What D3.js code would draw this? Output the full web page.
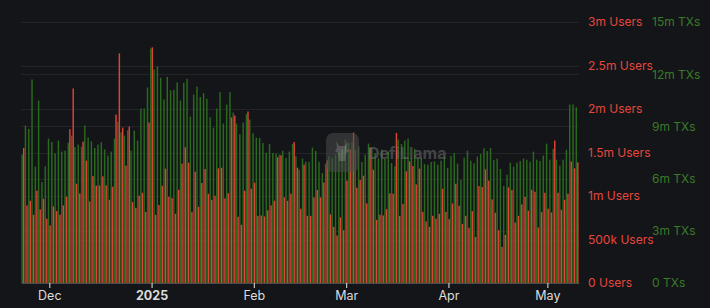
<!DOCTYPE html>
<html>
  <head>
    <meta charset="utf-8">
    <script src="https://cdn.jsdelivr.net/npm/d3@7/dist/d3.min.js"></script>
    <style type="text/css">
      body { margin: 0; background: #141518; }
      .axis text { font-family: Inter, "Noto Sans", sans-serif; font-size: 12px; }
      .xaxis path { stroke: #4a4b4f; }
      .xaxis line { stroke: #e6e6e6; }
      .xaxis text { fill: #dcdcdc; }
    </style>
  </head>
  <body>
    <div class="plot_canvas"></div>
    <script>
      // daily values, first day = startDay, one entry per day (thousands)
      var startDay = "2024-11-23";
      var txs = [
        7377, 9048, 8856, 11699, 6685, 10489, 5801, 6704,
        8299, 8107, 7453, 8183, 7550, 7607, 8068, 8472, 7818, 7953, 7838, 9048, 8356, 8145, 7761, 7953,
        8087, 7684, 7319, 7550, 8299, 9278, 8664, 8472, 8779, 7607, 8760, 8183, 10028, 10028, 11238, 13485,
        12275, 12448, 11795, 10546, 11853, 11084, 11103, 11526,
        10489, 11507, 11737, 9567, 10834, 11295, 10681, 10911, 10585, 9528, 8933, 10028, 10969, 9163, 10258, 10969,
        9797, 9163, 8548, 9221, 9701, 9394, 8606, 8356,
        8337, 8049, 7492, 7991, 7473, 7434, 7377, 7607, 7185, 7550, 7991, 7281, 6512, 7146, 6973, 6973,
        7780, 7588, 6973, 6320, 6858, 7281, 7185, 7377,
        7473, 7665, 8241, 8049, 8087, 7665, 7857, 6954, 7377, 8011, 7761, 7473, 7165, 7665, 7146, 7550,
        6896, 6704, 8241, 7991, 8183, 8299, 7185, 7703, 7185,
        7185, 6839, 6800, 6954, 6992, 6800, 7031, 7261, 6608, 7300, 7473, 6858, 5917, 7204, 7607, 7031,
        6877, 7261, 7415, 7742, 7588, 7761, 7069, 7146,
        6551, 5571, 6224, 6916, 6685, 6916, 7012, 7146, 7088, 6973, 7550, 7088, 7012, 7319, 8011, 7088,
        7703, 7088, 6743, 7088, 7665, 10258, 10258, 10104
      ];
      var users = [
        1552, 891, 945, 784, 1060, 845, 968, 738,
        661, 880, 826, 784, 891, 991, 1767, 2236, 1141, 1030, 1625, 1406, 937, 1229, 1118, 1122,
        1226, 1122, 957, 1106, 1936, 2639, 1787, 1349, 1798, 930, 864, 1003, 1037, 818, 1844, 2709,
        784, 895, 1118, 1314, 991, 976, 795, 1072,
        1372, 1560, 1383, 818, 1279, 876, 1149, 1310, 1026, 957, 1003, 1318, 1325, 972, 1033, 1902,
        1925, 761, 669, 1060, 1971, 1083, 1153, 772,
        776, 765, 834, 891, 945, 1445, 1468, 984, 945, 1026, 1621, 1325, 853, 1360, 772, 772,
        984, 1068, 984, 1156, 1410, 788, 645, 546,
        753, 607, 1176, 1537, 1729, 1095, 1183, 1233, 914, 1552, 1302, 726, 784, 776, 849, 1030,
        1026, 1725, 772, 907, 1283, 1398, 1345, 1133, 1314,
        818, 707, 645, 772, 738, 795, 1083, 818, 734, 914, 1141, 888, 680, 772, 634, 826,
        530, 1114, 1103, 1306, 1176, 961, 807, 607,
        415, 553, 1099, 1068, 695, 772, 903, 991, 830, 1072, 1049, 638, 815, 1037, 853, 811,
        1637, 1037, 841, 957, 1026, 1395, 1318, 1387
      ];
      var xTickDates = ["2024-12-01", "2025-01-01", "2025-02-01", "2025-03-01", "2025-04-01", "2025-05-01"];
      var xTickLabels = ["Dec", "2025", "Feb", "Mar", "Apr", "May"];
      var userTicks = [0, 500, 1000, 1500, 2000, 2500, 3000];
      var userTickLabels = ["0 Users", "500k Users", "1m Users", "1.5m Users", "2m Users", "2.5m Users", "3m Users"];
      var txTicks = [0, 3000, 6000, 9000, 12000, 15000];
      var txTickLabels = ["0 TXs", "3m TXs", "6m TXs", "9m TXs", "12m TXs", "15m TXs"];

      var col_bg = "#141518";
      var col_users = "#dc4437";
      var col_txs = "#2a6a1d";
      var col_users_txt = "#e5473e";
      var col_txs_txt = "#3a7a28";

      var width = 710, height = 308;
      var plotLeft = 21, plotRight = 579, plotTop = 22, plotBottom = 283;

      var parse = d3.utcParse("%Y-%m-%d");
      var day0 = parse(startDay);
      var rows = users.map(function (u, i) {
        return { date: d3.utcDay.offset(day0, i), users: u, txs: txs[i] };
      });

      var xScale = d3.scaleUtc()
        .domain([d3.utcHour.offset(rows[0].date, -14), d3.utcHour.offset(rows[rows.length - 1].date, 14)])
        .range([plotLeft, plotRight]);
      var yUsers = d3.scaleLinear().domain([0, 3000]).range([plotBottom, plotTop]);
      var yTxs = d3.scaleLinear().domain([0, 15000]).range([plotBottom, plotTop]);

      var svg = d3.select(".plot_canvas")
        .append("svg")
        .attr("width", width)
        .attr("height", height)
        .style("display", "block");

      svg.append("rect").attr("width", width).attr("height", height).attr("fill", col_bg);

      // grid lines
      var grid = svg.append("g");
      grid.selectAll("line.gu")
        .data(userTicks.slice(1)).enter()
        .append("line")
        .attr("x1", plotLeft).attr("x2", plotRight)
        .attr("y1", function (d) { return Math.round(yUsers(d)) + 0.5; })
        .attr("y2", function (d) { return Math.round(yUsers(d)) + 0.5; })
        .attr("stroke", "#222428");
      grid.selectAll("line.gt")
        .data(txTicks.slice(1, -1)).enter()
        .append("line")
        .attr("x1", plotLeft).attr("x2", plotRight)
        .attr("y1", function (d) { return Math.round(yTxs(d)) + 0.5; })
        .attr("y2", function (d) { return Math.round(yTxs(d)) + 0.5; })
        .attr("stroke", "#222428");

      // bars
      var barW = 1.45;
      var bars = svg.append("g");
      bars.selectAll("rect.tx")
        .data(rows).enter()
        .append("rect")
        .attr("x", function (d) { return xScale(d.date) - barW - 0.05; })
        .attr("y", function (d) { return yTxs(d.txs); })
        .attr("width", barW)
        .attr("height", function (d) { return plotBottom - yTxs(d.txs); })
        .attr("fill", col_txs);
      bars.selectAll("rect.us")
        .data(rows).enter()
        .append("rect")
        .attr("x", function (d) { return xScale(d.date) + 0.05; })
        .attr("y", function (d) { return yUsers(d.users); })
        .attr("width", barW)
        .attr("height", function (d) { return plotBottom - yUsers(d.users); })
        .attr("fill", col_users);

      // x axis
      var xAxis = d3.axisBottom(xScale)
        .tickValues(xTickDates.map(parse))
        .tickFormat(function (d, i) { return xTickLabels[i]; })
        .tickSize(5)
        .tickSizeOuter(0)
        .tickPadding(3);
      var gx = svg.append("g")
        .attr("class", "axis xaxis")
        .attr("transform", "translate(0," + plotBottom + ")")
        .call(xAxis);
      gx.selectAll(".tick text")
        .style("font-weight", function (d, i) { return xTickLabels[i] === "2025" ? "700" : "400"; })
        .style("font-size", "12.5px");

      // right axes
      var gu = svg.append("g")
        .attr("class", "axis")
        .attr("transform", "translate(" + plotRight + ",0)")
        .call(d3.axisRight(yUsers)
          .tickValues(userTicks)
          .tickFormat(function (d, i) { return userTickLabels[i]; })
          .tickSize(0)
          .tickPadding(9));
      gu.select(".domain").remove();
      gu.selectAll("text").attr("fill", col_users_txt);

      var gt = svg.append("g")
        .attr("class", "axis")
        .attr("transform", "translate(" + plotRight + ",0)")
        .call(d3.axisRight(yTxs)
          .tickValues(txTicks)
          .tickFormat(function (d, i) { return txTickLabels[i]; })
          .tickSize(0)
          .tickPadding(73));
      gt.select(".domain").remove();
      gt.selectAll("text").attr("fill", col_txs_txt);

      // watermark
      var wm = svg.append("g").attr("opacity", 0.55);
      wm.append("rect")
        .attr("x", 326).attr("y", 133).attr("width", 33).attr("height", 39)
        .attr("rx", 7)
        .attr("fill", "#4a4a4c");
      wm.append("path")
        .attr("d", "M336,141 l3,5 l6,0 l3,-5 l-1,7 l2,3 l-3,2 l-1,8 l-6,0 l-1,-8 l-3,-2 l2,-3 z")
        .attr("fill", "#8a8a8c");
      wm.append("text")
        .attr("x", 368).attr("y", 159)
        .attr("font-family", "Inter, 'Noto Sans', sans-serif")
        .attr("font-size", "16px")
        .attr("font-weight", 700)
        .attr("fill", "#6a6a6c")
        .text("DefiLlama");
    </script>
  </body>
</html>
